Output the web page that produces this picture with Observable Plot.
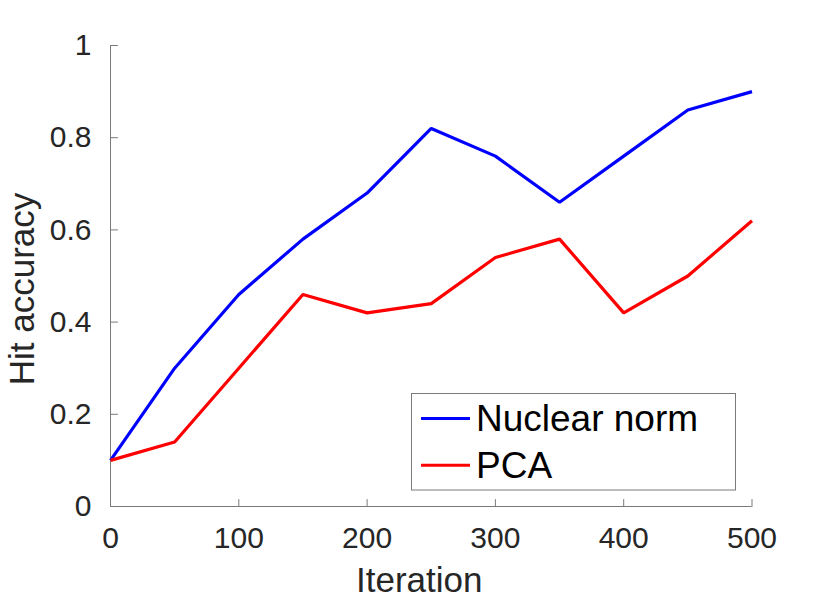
<!DOCTYPE html>
<html>
<head>
<meta charset="utf-8">
<script src="https://cdn.jsdelivr.net/npm/d3@7"></script>
<script src="https://cdn.jsdelivr.net/npm/@observablehq/plot@0.6"></script>
<style>
  html, body { margin: 0; padding: 0; background: #fff; }
  #wrap { position: relative; width: 830px; height: 600px; font-family: "Liberation Sans", Arial, Helvetica, sans-serif; }
  #legend { position: absolute; left: 411px; top: 392.5px; }
</style>
</head>
<body>
<div id="wrap"></div>
<script>
// ---- data ----
const iterations = [0, 50, 100, 150, 200, 250, 300, 350, 400, 450, 500];
const nuclearNorm = [0.10, 0.30, 0.46, 0.58, 0.68, 0.82, 0.76, 0.66, 0.76, 0.86, 0.90];
const pcaAccuracy = [0.10, 0.14, 0.30, 0.46, 0.42, 0.44, 0.54, 0.58, 0.42, 0.50, 0.62];
const seriesNames = ["Nuclear norm", "PCA"];
const seriesColors = ["#0000ff", "#ff0000"];
const xTicks = [0, 100, 200, 300, 400, 500];
const yTicks = [0, 0.2, 0.4, 0.6, 0.8, 1];
const yTickLabels = ["0", "0.2", "0.4", "0.6", "0.8", "1"];
const xLabel = "Iteration";
const yLabel = "Hit accuracy";

// long table built from the arrays
const seriesValues = [nuclearNorm, pcaAccuracy];
const table = [];
seriesNames.forEach((name, s) => {
  iterations.forEach((it, i) => table.push({series: name, iteration: it, accuracy: seriesValues[s][i]}));
});

const axisColor = "#7a7a7a";
const textColor = "#262626";
const font = "'Liberation Sans', Arial, Helvetica, sans-serif";

// inward tick shape (a short line drawn from the anchor point)
const tickShape = { draw(ctx, l) { ctx.moveTo(0, 0); ctx.lineTo(0, -l); } };

const chart = Plot.plot({
  width: 830,
  height: 600,
  marginLeft: 110,
  marginRight: 78.5,
  marginTop: 45,
  marginBottom: 94,
  style: { fontFamily: font, background: "#fff", overflow: "visible" },
  x: { domain: [0, 500] },
  y: { domain: [0, 1] },
  color: { domain: seriesNames, range: seriesColors },
  marks: [
    Plot.ruleX([0], { stroke: axisColor, strokeWidth: 1 }),
    Plot.ruleY([0], { stroke: axisColor, strokeWidth: 1 }),
    // inward ticks
    Plot.vector(xTicks, { x: d => d, y: 0, length: 7, rotate: 0, anchor: "start", shape: tickShape, stroke: axisColor, strokeWidth: 1 }),
    Plot.vector(yTicks, { x: 0, y: d => d, length: 7, rotate: 90, anchor: "start", shape: tickShape, stroke: axisColor, strokeWidth: 1 }),
    // tick labels
    Plot.axisX(xTicks, { tickSize: 0, tickPadding: 20, fontSize: 30, color: textColor, label: null, tickFormat: d => String(d) }),
    Plot.axisY(yTicks, { tickSize: 0, tickPadding: 19, fontSize: 30, color: textColor, label: null, tickFormat: (d, i) => yTickLabels[yTicks.indexOf(d)] }),
    // axis titles
    Plot.text([xLabel], { text: d => d, frameAnchor: "bottom", lineAnchor: "bottom", textAnchor: "middle", dx: -12, dy: 85, fontSize: 35, fill: textColor }),
    Plot.text([yLabel], { text: d => d, frameAnchor: "left", lineAnchor: "bottom", textAnchor: "middle", rotate: -90, dx: -77, dy: 13, fontSize: 35, fill: textColor }),
    // series lines
    Plot.line(table, { x: "iteration", y: "accuracy", z: "series", stroke: "series", strokeWidth: 3.2, strokeLinejoin: "miter", strokeLinecap: "butt" })
  ]
});

const wrap = document.getElementById("wrap");
wrap.appendChild(chart);

// legend overlay
const lw = 325, lh = 97.5;
const leg = d3.select(wrap).append("svg")
  .attr("id", "legend")
  .attr("width", lw + 1)
  .attr("height", lh + 1);
leg.append("rect")
  .attr("x", 0.5).attr("y", 0.5).attr("width", lw - 1).attr("height", lh - 1)
  .attr("fill", "#fff").attr("stroke", axisColor).attr("stroke-width", 1);
const rows = leg.selectAll("g").data(seriesNames).join("g")
  .attr("transform", (d, i) => `translate(0, ${38 + i * 46.7})`);
rows.append("line")
  .attr("x1", 10).attr("x2", 59).attr("y1", -12.5).attr("y2", -12.5)
  .attr("stroke", (d, i) => seriesColors[i]).attr("stroke-width", 3);
rows.append("text")
  .attr("x", 65).attr("y", 0)
  .attr("font-family", font).attr("font-size", 37).attr("fill", "#000")
  .text(d => d);
</script>
</body>
</html>
